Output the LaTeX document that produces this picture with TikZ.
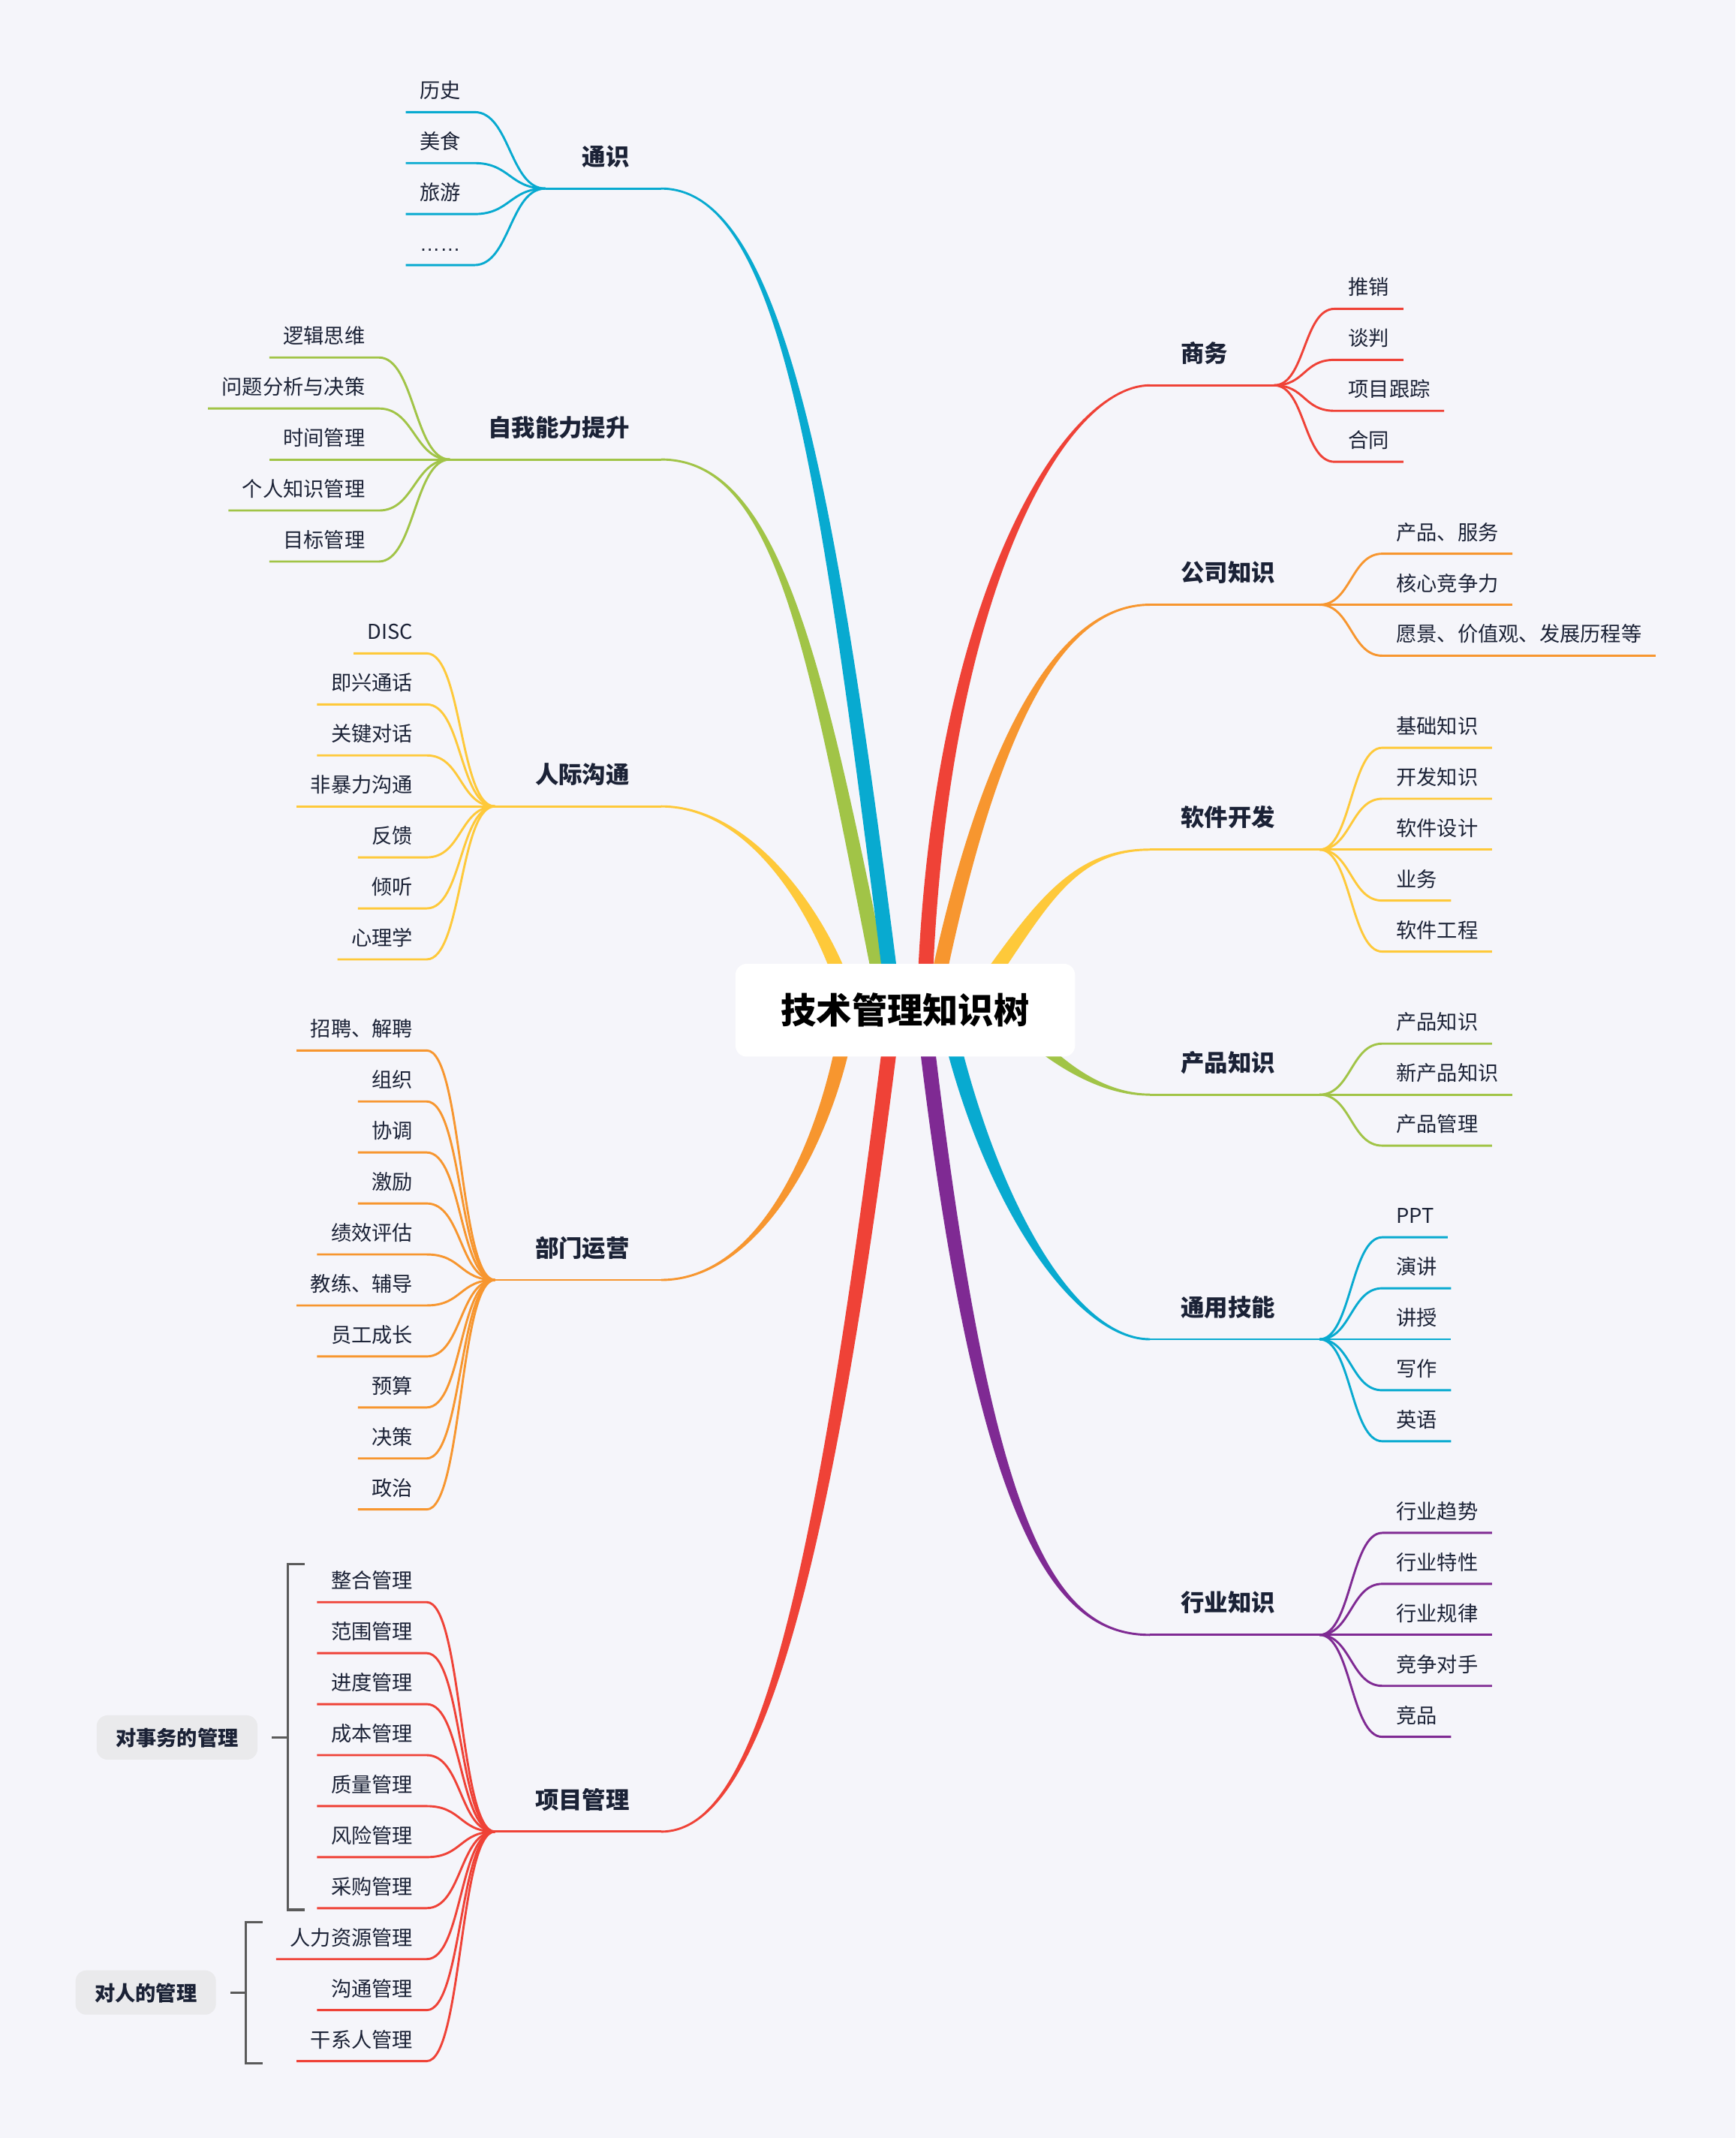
\documentclass[tikz,border=0pt]{standalone}
\usepackage{fontspec}
\setmainfont{Noto Sans CJK SC}
\newfontfamily\ellfont{Liberation Sans}
\usetikzlibrary{calc}
\pgfdeclarelayer{bg}
\pgfdeclarelayer{back}
\pgfsetlayers{bg,back,main}
\definecolor{bgc}{RGB}{245,245,250}
\definecolor{cblue}{HTML}{08AAD0}
\definecolor{cgreen}{HTML}{A1C447}
\definecolor{cyellow}{HTML}{FEC93A}
\definecolor{corange}{HTML}{F7962F}
\definecolor{cred}{HTML}{EF4237}
\definecolor{cpurple}{HTML}{7F2A93}
\definecolor{ink}{HTML}{1B2236}
\definecolor{brk}{HTML}{5A5A5A}
\definecolor{tagbg}{HTML}{EAEAEC}
\tikzset{
  kid/.style={font=\fontsize{15pt}{18pt}\selectfont, text=ink, inner xsep=10pt, inner ysep=0pt, text height=11pt, text depth=10pt},
  lab/.style={font=\fontsize{17.3pt}{20pt}\selectfont\bfseries, text=ink, inner sep=0pt},
  conn/.style={line width=1.6pt},
  rootbox/.style={fill=white, rounded corners=8pt, minimum width=249pt, minimum height=68pt, inner sep=0pt},
  roottext/.style={font=\fontsize{26pt}{30pt}\selectfont\bfseries, text=black, inner sep=0pt},
  tag/.style={fill=tagbg, rounded corners=8pt, font=\fontsize{15pt}{18pt}\selectfont\bfseries, text=ink, inner xsep=14pt, inner ysep=0pt, text height=12pt, text depth=0pt, minimum height=32.5pt},
  bracket/.style={draw=brk, line width=1.8pt}
}
% tapered main branch: #1 id, #2 colour, #3 start coord, #4 control near start, #5 control near end, #6 end coord
\newcommand{\mainbranch}[6]{%
  \coordinate (#1-a) at #4;
  \coordinate (#1-b) at #5;
  \coordinate (#1-sl) at ($#3!5.5pt!90:(#1-a)$);
  \coordinate (#1-sr) at ($#3!5.5pt!-90:(#1-a)$);
  \coordinate (#1-el) at ($#6!0.8pt!-90:(#1-b)$);
  \coordinate (#1-er) at ($#6!0.8pt!90:(#1-b)$);
  \fill[#2] (#1-sl) .. controls ($(#1-a)+(#1-sl)-#3$) and ($(#1-b)+(#1-el)-#6$) .. (#1-el)
     -- (#1-er) .. controls ($(#1-b)+(#1-er)-#6$) and ($(#1-a)+(#1-sr)-#3$) .. (#1-sr) -- cycle;
}
% children on the left: #1 prefix, #2 colour, #3 x of underline right end, #4 merge coordinate, #5 list y/text
\newcommand{\kidsleft}[5]{%
  \foreach \yy/\txt [count=\k] in {#5}{%
    \node[kid, anchor=south east] (#1\k) at (#3,\yy) {\txt};
    \draw[conn, #2] (#1\k.south west) -- (#1\k.south east) .. controls +(26,0) and +(-26,0) .. (#4);
  }%
}
\newcommand{\kidsright}[5]{%
  \foreach \yy/\txt [count=\k] in {#5}{%
    \node[kid, anchor=south west] (#1\k) at (#3,\yy) {\txt};
    \draw[conn, #2] (#4) .. controls +(23,0) and +(-23,0) .. (#1\k.south west) -- (#1\k.south east);
  }%
}
\begin{document}
\begin{tikzpicture}[x=1pt,y=-1pt]
\begin{pgfonlayer}{bg}
  \fill[bgc] (0,0) rectangle (1273,1568);
\end{pgfonlayer}
\useasboundingbox (0,0) rectangle (1273,1568);

% root
\node[rootbox] (root) at (664.05,740.9) {};
\node[roottext, anchor=base] (rootT) at (664,750.5) {技术管理知识树};

% start points of the main branches (hidden under the root box)
\coordinate (tsS) at (656,740);
\coordinate (zwS) at (650,740);
\coordinate (rjS) at (624,740);
\coordinate (bmS) at (623,740);
\coordinate (xmS) at (656,740);
\coordinate (swS) at (678,740);
\coordinate (gsS) at (683.6,740);
\coordinate (rkS) at (710,740);
\coordinate (cpS) at (735,740);
\coordinate (tyS) at (693,740);
\coordinate (hyS) at (677,740);

% branch ends and merge points
\coordinate (tsE) at (485,138.3);   \coordinate (tsM) at (400,138.3);
\coordinate (zwE) at (485,337);     \coordinate (zwM) at (330,337);
\coordinate (rjE) at (485,591.4);   \coordinate (rjM) at (363,591.4);
\coordinate (bmE) at (485,938.7);   \coordinate (bmM) at (363,938.7);
\coordinate (xmE) at (485,1343.3);  \coordinate (xmM) at (363,1343.3);
\coordinate (swE) at (843.5,282.6); \coordinate (swM) at (934.6,282.6);
\coordinate (gsE) at (843.5,443.5); \coordinate (gsM) at (968,443.5);
\coordinate (rkE) at (843.5,623.1); \coordinate (rkM) at (968,623.1);
\coordinate (cpE) at (843.5,802.8); \coordinate (cpM) at (968,802.8);
\coordinate (tyE) at (843.5,982.2); \coordinate (tyM) at (968,982.2);
\coordinate (hyE) at (843.5,1199);  \coordinate (hyM) at (968,1199);

\begin{pgfonlayer}{back}
  \mainbranch{zw}{cgreen}{(zwS)}{(599.2,486.1)}{(572.5,337)}{(zwE)}
  \mainbranch{ts}{cblue}{(tsS)}{(608.5,360)}{(575,138.3)}{(tsE)}
  \mainbranch{rj}{cyellow}{(rjS)}{(608,680)}{(555,591.4)}{(rjE)}
  \mainbranch{bm}{corange}{(bmS)}{(610,830)}{(560,938.7)}{(bmE)}
  \mainbranch{xm}{cred}{(xmS)}{(600,1200)}{(550,1343.3)}{(xmE)}
  \mainbranch{gs}{corange}{(gsS)}{(721,553.2)}{(772,443.5)}{(gsE)}
  \mainbranch{sw}{cred}{(swS)}{(686,440)}{(780,282.6)}{(swE)}
  \mainbranch{rk}{cyellow}{(rkS)}{(760.5,669.8)}{(783,623.1)}{(rkE)}
  \mainbranch{cp}{cgreen}{(cpS)}{(755,760)}{(795,802.8)}{(cpE)}
  \mainbranch{ty}{cblue}{(tyS)}{(725,885)}{(790,982.2)}{(tyE)}
  \mainbranch{hy}{cpurple}{(hyS)}{(720,1120)}{(772,1199)}{(hyE)}
\end{pgfonlayer}

% ---------- left side ----------
\draw[conn, cblue] (tsM) -- (tsE);
\node[lab, anchor=base east] (tsL) at (462,121.3) {通识};
\kidsleft{ts}{cblue}{348}{tsM}{82.2/历史, 119.6/美食, 157.0/旅游, 194.4/{\ellfont ……}}

\draw[conn, cgreen] (zwM) -- (zwE);
\node[lab, anchor=base east] (zwL) at (462,320) {自我能力提升};
\kidsleft{zw}{cgreen}{278}{zwM}{262.2/逻辑思维, 299.6/问题分析与决策, 337/时间管理, 374.4/个人知识管理, 411.8/目标管理}

\draw[conn, cyellow] (rjM) -- (rjE);
\node[lab, anchor=base east] (rjL) at (462,574.4) {人际沟通};
\kidsleft{rj}{cyellow}{313}{rjM}{479.2/DISC, 516.6/即兴通话, 554/关键对话, 591.4/非暴力沟通, 628.8/反馈, 666.2/倾听, 703.6/心理学}

\draw[conn, corange] (bmM) -- (bmE);
\node[lab, anchor=base east] (bmL) at (462,921.7) {部门运营};
\kidsleft{bm}{corange}{313}{bmM}{770.4/招聘、解聘, 807.8/组织, 845.2/协调, 882.6/激励, 920/绩效评估, 957.4/教练、辅导, 994.8/员工成长, 1032.2/预算, 1069.6/决策, 1107/政治}

\draw[conn, cred] (xmM) -- (xmE);
\node[lab, anchor=base east] (xmL) at (462,1326.3) {项目管理};
\kidsleft{xm}{cred}{313}{xmM}{1175/整合管理, 1212.4/范围管理, 1249.8/进度管理, 1287.2/成本管理, 1324.6/质量管理, 1362/风险管理, 1399.4/采购管理, 1436.8/人力资源管理, 1474.2/沟通管理, 1511.6/干系人管理}

% brackets with tags
\node[tag] (tagA) at (129.9,1274.25) {对事务的管理};
\node[tag] (tagB) at (106.9,1461.3) {对人的管理};
\coordinate (brA1) at (223.4,1147);
\coordinate (brA2) at (223.4,1400.6);
\coordinate (brAm) at (211.2,1274.25);
\coordinate (brB1) at (192.5,1409.7);
\coordinate (brB2) at (192.5,1513);
\coordinate (brBm) at (180.3,1461.3);
\draw[bracket] (brA1) -- (brA1 -| brAm) -- (brA2 -| brAm) -- (brA2);
\draw[bracket] (brAm) -- ($(tagA.east)+(10,0)$);
\draw[bracket] (brB1) -- (brB1 -| brBm) -- (brB2 -| brBm) -- (brB2);
\draw[bracket] (brBm) -- ($(tagB.east)+(10.5,0)$);

% ---------- right side ----------
\draw[conn, cred] (swE) -- (swM);
\node[lab, anchor=base west] (swL) at (866,265.6) {商务};
\kidsright{sw}{cred}{979}{swM}{226.5/推销, 263.9/谈判, 301.3/项目跟踪, 338.7/合同}

\draw[conn, corange] (gsE) -- (gsM);
\node[lab, anchor=base west] (gsL) at (866,426.5) {公司知识};
\kidsright{gs}{corange}{1014}{gsM}{406.1/产品、服务, 443.5/核心竞争力, 480.9/愿景、价值观、发展历程等}

\draw[conn, cyellow] (rkE) -- (rkM);
\node[lab, anchor=base west] (rkL) at (866,606.1) {软件开发};
\kidsright{rk}{cyellow}{1014}{rkM}{548.4/基础知识, 585.8/开发知识, 623.1/软件设计, 660.5/业务, 697.9/软件工程}

\draw[conn, cgreen] (cpE) -- (cpM);
\node[lab, anchor=base west] (cpL) at (866,785.8) {产品知识};
\kidsright{cp}{cgreen}{1014}{cpM}{765.4/产品知识, 802.8/新产品知识, 840.2/产品管理}

\draw[conn, cblue] (tyE) -- (tyM);
\node[lab, anchor=base west] (tyL) at (866,965.2) {通用技能};
\kidsright{ty}{cblue}{1014}{tyM}{907.4/PPT, 944.8/演讲, 982.2/讲授, 1019.6/写作, 1057/英语}

\draw[conn, cpurple] (hyE) -- (hyM);
\node[lab, anchor=base west] (hyL) at (866,1182) {行业知识};
\kidsright{hy}{cpurple}{1014}{hyM}{1124.2/行业趋势, 1161.6/行业特性, 1199/行业规律, 1236.4/竞争对手, 1273.8/竞品}
\end{tikzpicture}
\end{document}
